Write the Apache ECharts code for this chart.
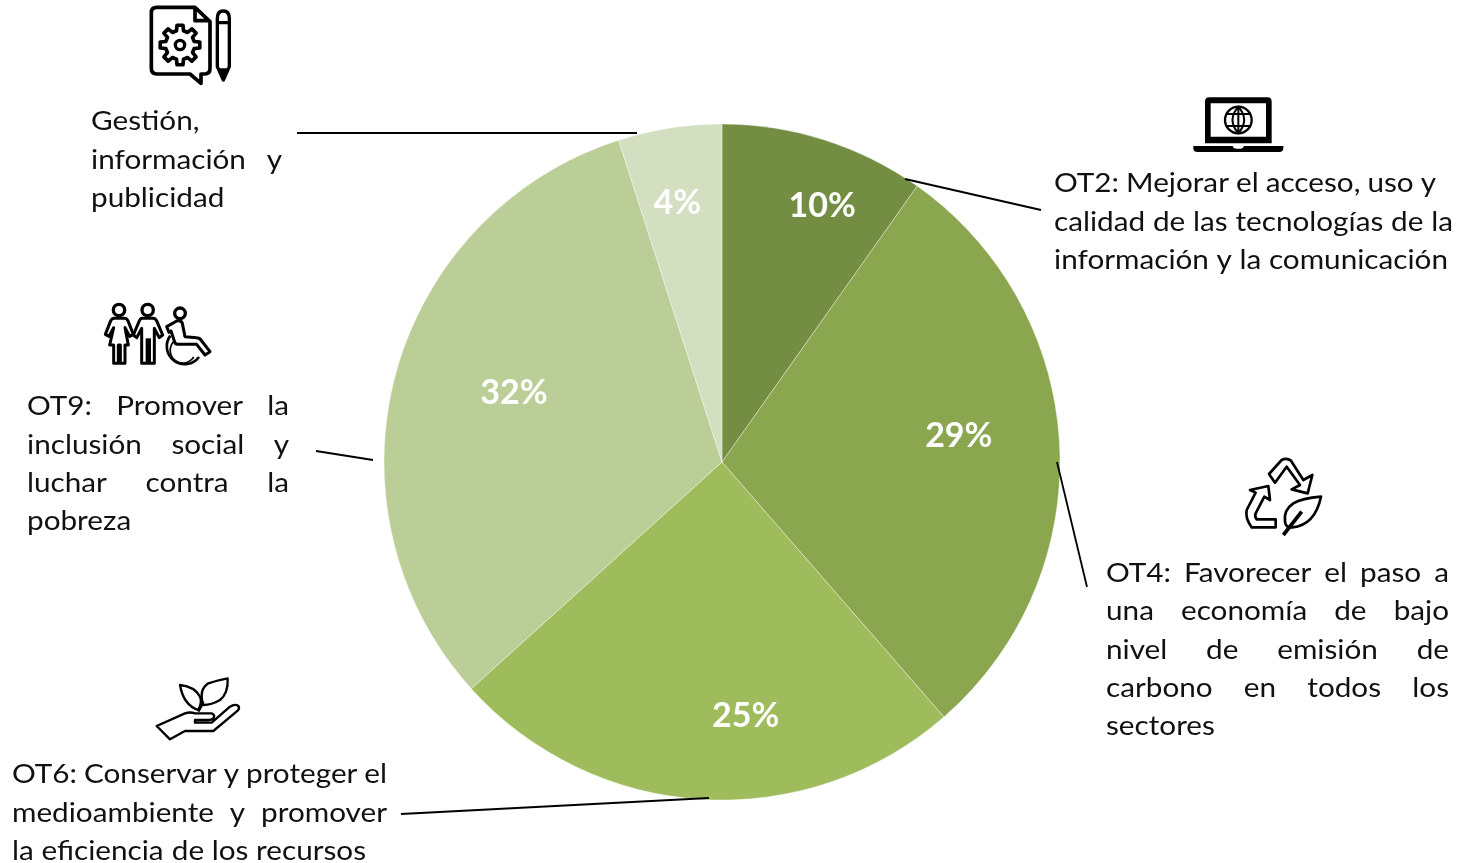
<!DOCTYPE html>
<html><head><meta charset="utf-8">
<style>html,body{margin:0;padding:0;background:#fff}#c{width:1474px;height:863px}</style>
<script src="https://cdn.jsdelivr.net/npm/echarts@6/dist/echarts.min.js"></script>
</head><body><div id="c"></div>
<script>
// ---- data ----
const categories = ['OT2','OT4','OT6','OT9','Gestión'];
const shares = [9.8, 28.8, 24.7, 31.75, 4.95];
const shownLabels = ['10%','29%','25%','32%','4%'];
const labelOffsets = [[48,-92],[65,-17],[34,82],[-42,-24],[-18,-89]];
const colors = ['#738D42','#8AA64F','#9EBC5C','#BBCE98','#D3DFC0'];

const gestionLines = ['Gestión,','información y','publicidad'];
const ot2Lines = ['OT2: Mejorar el acceso, uso y','calidad de las tecnologías de la','información y la comunicación'];
const ot4Lines = ['OT4: Favorecer el paso a','una economía de bajo','nivel de emisión de','carbono en todos los','sectores'];
const ot6Lines = ['OT6: Conservar y proteger el','medioambiente y promover','la eficiencia de los recursos'];
const ot9Lines = ['OT9: Promover la','inclusión social y','luchar contra la','pobreza'];

// layout of text blocks: left, right edge per line (0 = natural), y centre per line
const blocks = [
 {lines:gestionLines,x:91,right:[0,282,0],y:[120,159,197]},
 {lines:ot2Lines,x:1054,right:[1436,1453,1448],y:[182,221,259]},
 {lines:ot4Lines,x:1106,right:[1449,1449,1449,1449,0],y:[572,610,649,687,725]},
 {lines:ot6Lines,x:12,right:[387,387,366],y:[773,812,850]},
 {lines:ot9Lines,x:27,right:[289,289,289,0],y:[405,444,482,520]}
];
const leaders = [[297,133,637,133],[905,179,1041,210],[316,451,373,460],[1057,462,1087,587],[401,814,709,798]];

const FONT = 'Lato';
const FS = 27.5;
const SX = 1.08;
const meas = document.createElement('canvas').getContext('2d');
meas.font = FS+'px '+FONT;
if('textRendering' in meas) meas.textRendering='optimizeSpeed';

const graphics = [];
blocks.forEach(b=>{
  b.lines.forEach((ln,i)=>{
    const words = ln.split(' ');
    const r = b.right[i];
    const ws = words.map(w=>meas.measureText(w).width*SX);
    const total = ws.reduce((a,c)=>a+c,0);
    const gap = r ? (r-b.x-total)/(words.length-1||1) : meas.measureText(' ').width*SX;
    let x = b.x;
    words.forEach((w,k)=>{
      graphics.push({type:'text',x:x,y:b.y[i]+1,scaleX:SX,style:{text:w,font:FS+'px '+FONT,fill:'#111',textAlign:'left',textVerticalAlign:'middle'},z:5});
      x += ws[k]+gap;
    });
  });
});
leaders.forEach(l=>graphics.push({type:'line',shape:{x1:l[0],y1:l[1],x2:l[2],y2:l[3]},style:{stroke:'#000',lineWidth:1.8},z:4}));

// icons: drawn in 3x local units
function gear(cx,cy,ro,ri,n){
  let d='';
  for(let k=0;k<n;k++){
    const a=k*2*Math.PI/n-Math.PI/2, w=Math.PI/n;
    const p=[[ri,a-w*0.62],[ro,a-w*0.38],[ro,a+w*0.38],[ri,a+w*0.62]];
    p.forEach((q,j)=>{d+=(k===0&&j===0?'M':'L')+(cx+q[0]*Math.cos(q[1])).toFixed(1)+' '+(cy+q[0]*Math.sin(q[1])).toFixed(1)+' ';});
  }
  return d+'Z';
}
const icons = [
 {at:[130,0],parts:[
  {d:'M195 22H80Q64 22 64 38V205Q64 222 80 222H180L213 250V222H225Q240 222 240 205V65ZM195 22V62H240',sw:11},
  {d:gear(150,135,60,44,8),sw:11},
  {c:[150,135,14],sw:10},
  {d:'M262 55Q262 33 280 33Q298 33 298 55V200L280 240L262 200ZM262 68H298',sw:10},
  {d:'M268 205L280 238L292 205Z',fill:true}
 ]},
 {at:[1180,90],parts:[
  {d:'M75 35Q75 22 88 22H262Q275 22 275 35V160H75ZM92 40V140H258V40Z',fill:true},
  {d:'M40 168H158Q160 176 170 176H182Q190 176 192 168H310V175Q310 186 298 186H52Q40 186 40 175Z',fill:true},
  {c:[175,90,40],sw:7},
  {d:'M175 50Q140 90 175 130Q210 90 175 50ZM175 50V130M140 72H210M140 108H210',sw:6}
 ]},
 {at:[95,295],parts:[
  {c:[72,45,17],sw:10},{c:[158,45,17],sw:10},{c:[255,55,16],sw:10},
  {d:'M58 70H88Q96 70 100 80L115 118L104 124L90 98L100 150H90V205H76V150H70V205H56V150H44L56 98L42 124L31 118L46 80Q50 70 58 70Z',sw:9},
  {d:'M142 70H174Q182 70 186 80L203 120L193 128L178 100V205H140V100L125 128L115 120L132 80Q136 70 142 70Z',sw:9},
  {d:'M160 130V205',sw:16},
  {d:'M215 95L245 78Q258 74 262 85L270 125L305 128Q315 128 320 138L345 170L330 180L305 148L248 148Q240 148 238 138L228 108L222 112Z',sw:9},
  {d:'M226 122A52 52 0 1 0 312 186',sw:8},
  {d:'M236 140A38 38 0 1 0 296 186',sw:5}
 ]},
 {at:[1235,450],parts:[
  {d:'M102 72L140 30Q155 22 168 32L205 90L232 75L218 130L170 118L195 105L155 50L120 98Z',sw:8},
  {d:'M100 108L45 120L62 128L35 180Q30 205 50 232H122V208H65Q58 200 62 190L88 140L105 150Z',sw:8},
  {d:'M258 140Q200 145 175 160Q145 180 150 215Q152 235 172 232Q240 225 258 140Z',sw:8},
  {d:'M145 255L200 185',sw:11}
 ]},
 {at:[145,670],parts:[
  {d:'M35 168L120 130Q135 125 150 130H200Q212 135 205 145Q200 150 190 150H150V158H200L255 110Q270 100 280 108Q285 115 278 122L205 183H120L75 208Z',sw:7},
  {d:'M160 120Q115 105 105 45Q150 50 165 80Q172 95 160 120Z',sw:7},
  {d:'M175 105Q160 60 190 40Q220 30 248 25Q250 70 225 90Q200 105 175 105Z',sw:7},
  {d:'M160 125Q170 110 175 95',sw:7}
 ]}
];
let shapeId=0;
icons.forEach(ic=>{
  const children=[];
  ic.parts.forEach(p=>{
    if(p.c){
      children.push({type:'circle',shape:{cx:p.c[0],cy:p.c[1],r:p.c[2]},style:{fill:'none',stroke:'#000',lineWidth:p.sw}});
    }else{
      const name='iconPath'+(shapeId++);
      echarts.graphic.registerShape(name,echarts.graphic.extendPath(p.d,{}));
      children.push({type:name,style:p.fill?{fill:'#000',stroke:'none'}:{fill:'none',stroke:'#000',lineWidth:p.sw,lineJoin:'round'}});
    }
  });
  graphics.push({type:'group',x:ic.at[0],y:ic.at[1],scaleX:1/3,scaleY:1/3,children,z:3});
});

const chart = echarts.init(document.getElementById('c'),null,{renderer:'canvas'});
chart.setOption({
  animation:false,
  backgroundColor:'#fff',
  color:colors,
  graphic:{elements:graphics},
  series:[{
    type:'pie',center:[722,462],radius:[0,338],startAngle:90,clockwise:true,minAngle:0,
    data:categories.map((c,i)=>({name:c,value:shares[i]})),
    itemStyle:{borderColor:'rgba(255,255,255,0.6)',borderWidth:0.6},
    label:{show:true,position:'inside',formatter:p=>shownLabels[p.dataIndex],color:'#fff',fontFamily:FONT,fontWeight:'bold',fontSize:34},
    labelLine:{show:false},
    labelLayout:p=>({dx:labelOffsets[p.dataIndex][0],dy:labelOffsets[p.dataIndex][1]})
  }]
});
// no ligatures in the running text
try{
  const painter=chart.getZr().painter;
  painter.getLayers&&Object.values(painter.getLayers()).forEach(l=>{if(l.ctx&&'textRendering' in l.ctx)l.ctx.textRendering='optimizeSpeed';});
  painter.refresh();
}catch(e){}
</script></body></html>
